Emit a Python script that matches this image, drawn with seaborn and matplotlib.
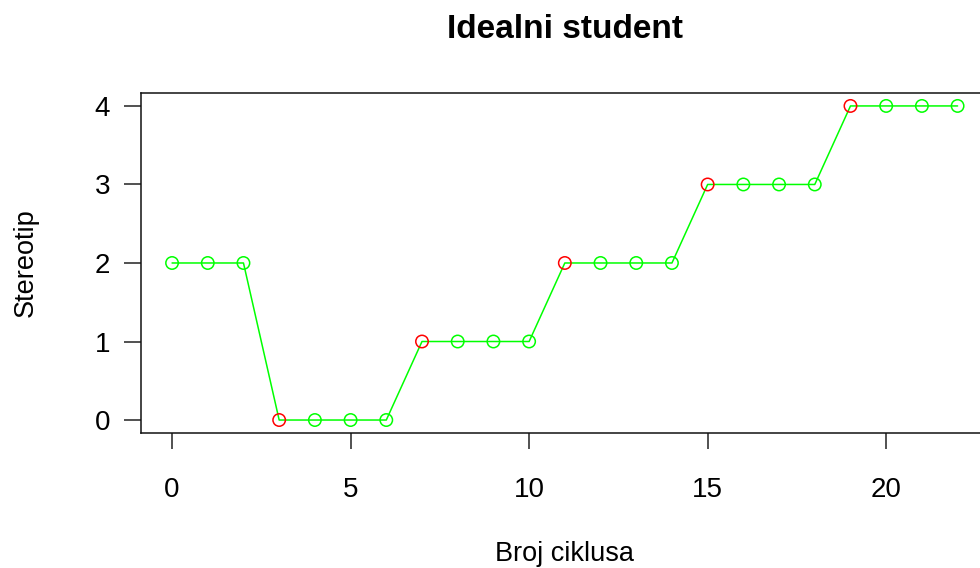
import matplotlib
matplotlib.use("Agg")
import matplotlib.pyplot as plt
import pandas as pd
import seaborn as sns

CYCLES = list(range(23))
STEREOTYPE = [2, 2, 2, 0, 0, 0, 0, 1, 1, 1, 1, 2, 2, 2, 2, 3, 3, 3, 3, 4, 4, 4, 4]
CHANGED = [False, False, False, True, False, False, False, True, False, False, False,
           True, False, False, False, True, False, False, False, True, False, False, False]
X_TICKS = [0, 5, 10, 15, 20]
Y_TICKS = [0, 1, 2, 3, 4]

sns.set_style("white", {"xtick.bottom": True, "ytick.left": True,
                        "text.color": "black", "xtick.color": "black",
                        "ytick.color": "black", "axes.labelcolor": "black"})
plt.rcParams["font.family"] = ["Liberation Sans", "DejaVu Sans"]

df = pd.DataFrame({"cycle": CYCLES, "stereotype": STEREOTYPE, "changed": CHANGED})

fig = plt.figure(figsize=(9.8, 5.68), dpi=100)
ax = fig.add_axes([0.1435, 0.2384, 0.8657, 0.5972])

sns.lineplot(data=df, x="cycle", y="stereotype", color="#00ff00", linewidth=1.1, ax=ax)
edge = ["#ff0000" if c else "#00ff00" for c in df["changed"]]
sns.scatterplot(data=df, x="cycle", y="stereotype", marker="o", s=80,
                facecolors="none", edgecolor=edge, linewidth=1.1, ax=ax, zorder=3)

ax.set_xlim(-0.88, 22.88)
ax.set_ylim(-0.16, 4.16)
ax.set_xticks(X_TICKS)
ax.set_yticks(Y_TICKS)
ax.tick_params(axis="x", length=11.5, width=1.1, pad=20.5, labelsize=20, color="#222222")
ax.tick_params(axis="y", length=12, width=1.1, pad=10, labelsize=20, color="#222222")
for s in ax.spines.values():
    s.set_color("#111111")
    s.set_linewidth(1.1)

ax.set_title("Idealni student", fontsize=24, fontweight="bold", pad=40)
ax.set_xlabel("Broj ciklusa", fontsize=19.5, labelpad=27)
ax.set_ylabel("Stereotip", fontsize=19.5, labelpad=40)

fig.savefig("out.png", dpi=100)
